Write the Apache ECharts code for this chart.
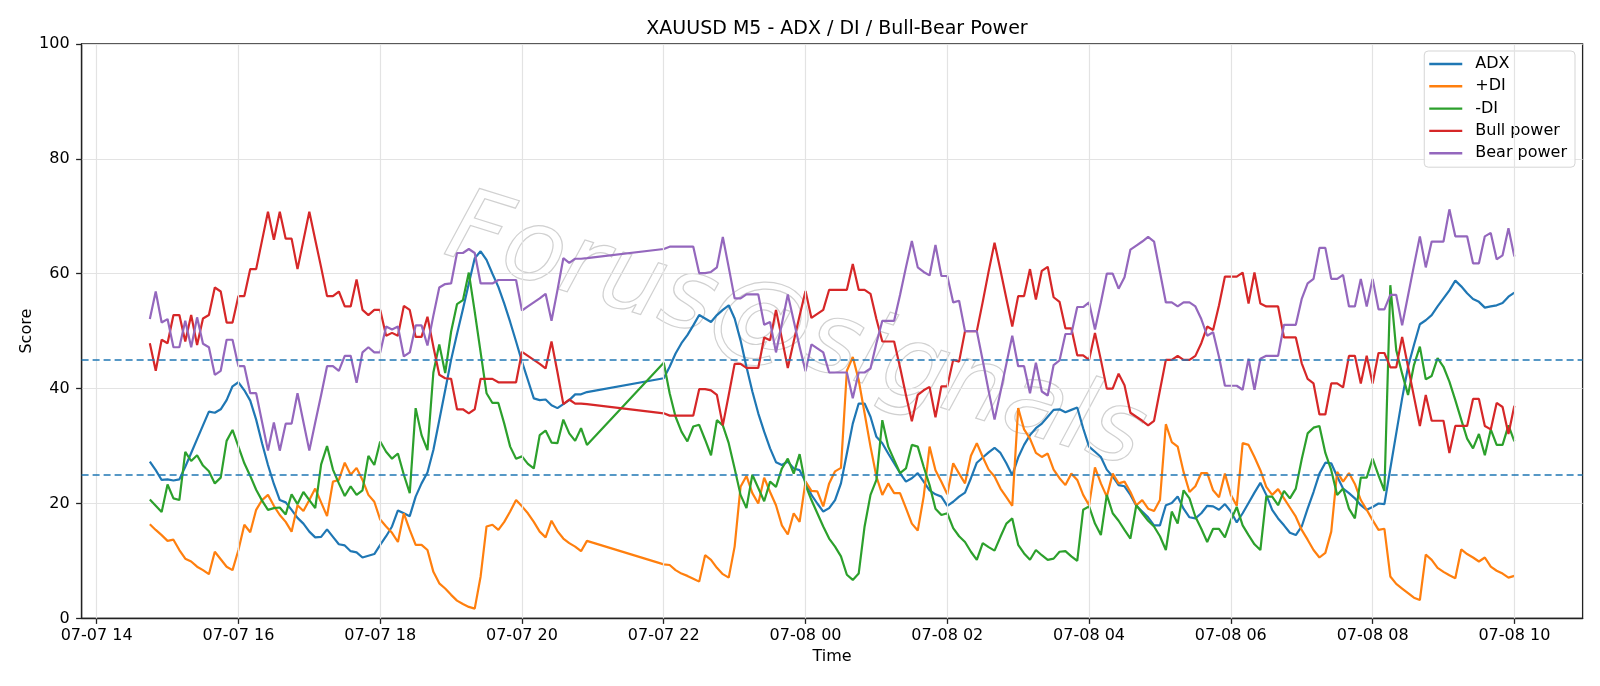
<!DOCTYPE html>
<html>
<head>
<meta charset="utf-8">
<title>XAUUSD M5 - ADX / DI / Bull-Bear Power</title>
<script src="https://cdn.jsdelivr.net/npm/echarts@6/dist/echarts.min.js"></script>
<style>
  html, body { margin: 0; padding: 0; background: #fff; }
  #chart { width: 1600px; height: 686px; }
</style>
</head>
<body>
<div id="chart"></div>
<script>
// two trading sessions of M5 bars: start hour (counted from 07-07 00:00) and bar count
var sessionStart = [14.75, 22];
var sessionBars = [75, 145];
var xTicks = [14, 16, 18, 20, 22, 24, 26, 28, 30, 32, 34];
var levels = [45, 25];
var names = ['ADX', '+DI', '-DI', 'Bull power', 'Bear power'];
var colors = ['#1f77b4', '#ff7f0e', '#2ca02c', '#d62728', '#9467bd'];

var adx = [
  27.3, 25.8, 24.1, 24.2, 24.0, 24.2, 26.4, 28.8, 31.2, 33.6,
  36.0, 35.8, 36.4, 38.0, 40.4, 41.1, 39.7, 37.9, 34.6, 30.5,
  26.7, 23.4, 20.6, 20.2, 18.9, 17.5, 16.5, 15.1, 14.1, 14.2,
  15.5, 14.2, 12.9, 12.7, 11.7, 11.5, 10.6, 10.9, 11.2, 12.8,
  14.3, 16.0, 18.8, 18.3, 17.8, 21.2, 23.5, 25.4, 29.3, 34.5,
  39.7, 45.0, 49.5, 53.8, 58.3, 62.7, 63.9, 62.4, 60.0, 57.7,
  54.8, 51.6, 48.2, 44.7, 41.5, 38.3, 38.0, 38.1, 37.1, 36.6,
  37.3, 38.0, 39.0, 39.0, 39.4,
  // session 2
  41.8, 43.8, 46.1, 47.9, 49.3, 51.0, 52.8, 52.2, 51.6, 52.8,
  53.7, 54.5, 52.2, 48.4, 43.8, 39.5, 35.7, 32.5, 29.6, 27.2,
  26.7, 27.3, 26.1, 25.8, 23.8, 21.5, 20.0, 18.6, 19.2, 20.6,
  23.5, 28.7, 33.9, 37.4, 37.4, 35.1, 31.6, 30.5, 28.7, 27.0,
  25.3, 23.8, 24.4, 25.3, 23.8, 22.3, 21.6, 21.2, 19.6, 20.3,
  21.2, 21.9, 24.4, 27.1, 28.0, 28.9, 29.7, 28.8, 27.0, 24.9,
  28.0, 30.2, 31.9, 33.1, 33.9, 35.1, 36.3, 36.4, 35.9, 36.3,
  36.7, 33.1, 29.9, 29.0, 28.1, 25.9, 24.7, 23.2, 23.0, 21.5,
  19.6, 18.6, 17.6, 16.2, 16.2, 19.7, 20.1, 21.2, 19.1, 17.6,
  17.4, 18.3, 19.6, 19.5, 18.9, 19.9, 18.6, 16.7, 18.3, 20.1,
  21.9, 23.6, 21.5, 18.9, 17.4, 16.2, 14.9, 14.5, 16.0, 19.1,
  22.0, 25.2, 27.1, 27.0, 24.7, 22.6, 21.8, 20.9, 19.7, 18.9,
  19.4, 20.0, 19.9, 26.1, 32.2, 38.3, 43.8, 47.6, 51.2, 51.9,
  52.8, 54.3, 55.7, 57.1, 58.8, 57.8, 56.6, 55.6, 55.1, 54.1,
  54.3, 54.5, 54.9, 56.0, 56.7
];

var plusDi = [
  16.4, 15.4, 14.5, 13.5, 13.7, 11.9, 10.4, 9.9, 9.0, 8.4,
  7.7, 11.6, 10.3, 9.0, 8.4, 11.9, 16.3, 15.0, 18.9, 20.6,
  21.5, 19.6, 18.0, 16.8, 15.1, 19.7, 18.7, 20.6, 22.6, 20.2,
  17.8, 23.8, 24.1, 27.1, 25.0, 26.2, 24.1, 21.5, 20.3, 17.2,
  16.0, 14.9, 13.3, 18.3, 15.4, 12.8, 12.8, 11.9, 8.1, 6.1,
  5.2, 4.1, 3.1, 2.5, 2.0, 1.7, 7.3, 16.0, 16.3, 15.4,
  16.8, 18.6, 20.6, 19.5, 18.3, 16.8, 15.1, 14.1, 17.0, 15.2,
  13.9, 13.1, 12.5, 11.7, 13.5,
  // session 2
  9.4, 9.3, 8.4, 7.8, 7.4, 6.9, 6.4, 11.0, 10.2, 8.8,
  7.7, 7.1, 12.5, 22.9, 24.8, 21.8, 20.0, 24.5, 22.0, 19.7,
  16.2, 14.6, 18.3, 16.8, 23.8, 22.2, 22.1, 19.5, 23.5, 25.6,
  26.2, 43.1, 45.5, 41.5, 35.7, 29.9, 24.7, 21.5, 23.5, 21.8,
  21.8, 19.2, 16.5, 15.3, 21.2, 29.9, 25.8, 23.8, 21.6, 27.0,
  25.2, 23.5, 28.3, 30.5, 28.1, 25.9, 24.7, 22.6, 21.1, 19.6,
  36.6, 32.9, 31.3, 28.8, 28.1, 28.7, 25.9, 24.4, 23.2, 25.2,
  24.1, 21.5, 19.7, 26.3, 23.5, 21.2, 25.2, 23.5, 23.8, 22.0,
  19.7, 20.6, 19.1, 18.7, 20.6, 33.8, 30.7, 29.9, 25.5, 22.0,
  23.0, 25.3, 25.3, 22.3, 21.1, 25.2, 21.5, 19.6, 30.5, 30.2,
  28.1, 25.8, 22.9, 21.5, 22.5, 20.9, 19.3, 17.7, 15.4, 13.7,
  11.9, 10.6, 11.4, 15.1, 25.5, 23.8, 25.3, 23.4, 20.6, 18.9,
  17.1, 15.4, 15.6, 7.3, 6.0, 5.2, 4.4, 3.6, 3.2, 11.1,
  10.2, 8.8, 8.1, 7.5, 7.0, 12.0, 11.2, 10.6, 9.9, 10.6,
  9.0, 8.3, 7.8, 7.1, 7.4
];

var minusDi = [
  20.7, 19.6, 18.5, 23.3, 20.9, 20.6, 29.0, 27.4, 28.4, 26.6,
  25.6, 23.5, 24.5, 30.9, 32.8, 29.9, 27.0, 24.8, 22.4, 20.5,
  18.9, 19.2, 19.3, 18.1, 21.6, 19.9, 22.0, 20.6, 19.2, 26.8,
  30.0, 25.9, 23.5, 21.3, 23.0, 21.5, 22.3, 28.3, 26.7, 30.8,
  29.0, 27.8, 28.7, 25.0, 21.8, 36.6, 31.9, 29.3, 42.8, 47.7,
  42.7, 49.9, 54.7, 55.4, 60.2, 53.4, 46.3, 39.2, 37.5, 37.5,
  33.9, 29.9, 27.8, 28.2, 26.9, 26.1, 31.9, 32.7, 30.6, 30.5,
  34.6, 32.2, 30.9, 33.1, 30.2,
  // session 2
  44.5, 39.2, 35.1, 32.5, 30.8, 33.4, 33.7, 31.1, 28.4, 34.5,
  33.6, 30.5, 26.1, 21.5, 19.2, 25.0, 22.7, 20.4, 23.8, 22.9,
  26.1, 27.8, 25.2, 28.6, 23.2, 20.6, 18.3, 16.0, 13.9, 12.5,
  10.8, 7.6, 6.7, 7.8, 16.0, 21.5, 24.1, 34.5, 29.9, 27.6,
  25.3, 26.1, 30.2, 29.9, 26.4, 23.2, 19.1, 18.0, 18.3, 15.7,
  14.3, 13.3, 11.6, 10.2, 13.1, 12.4, 11.8, 14.2, 16.5, 17.4,
  12.8, 11.3, 10.2, 11.9, 11.0, 10.2, 10.4, 11.6, 11.7, 10.8,
  10.0, 18.9, 19.5, 16.5, 14.5, 21.5, 18.3, 17.0, 15.4, 13.9,
  19.7, 18.3, 17.0, 16.0, 14.3, 11.9, 18.6, 16.5, 22.3, 20.9,
  17.7, 15.6, 13.3, 15.6, 15.6, 14.1, 17.1, 19.4, 16.2, 14.5,
  12.9, 11.9, 21.2, 21.2, 19.7, 22.2, 20.9, 22.6, 27.7, 32.2,
  33.2, 33.5, 28.8, 25.8, 21.5, 22.6, 19.1, 17.4, 24.5, 24.5,
  27.8, 24.9, 22.2, 58.0, 46.7, 42.6, 38.9, 44.1, 47.3, 41.6,
  42.2, 45.3, 43.8, 41.2, 38.0, 34.6, 31.3, 29.6, 32.1, 28.4,
  32.9, 30.2, 30.2, 33.6, 30.8
];

var bullPower = [
  47.9, 43.1, 48.5, 47.9, 52.8, 52.8, 48.2, 52.8, 47.6, 52.2,
  52.8, 57.6, 56.9, 51.5, 51.5, 56.1, 56.1, 60.8, 60.8, 65.8,
  70.8, 65.9, 70.8, 66.1, 66.1, 60.8, 65.8, 70.8, 65.9, 61.1,
  56.1, 56.1, 56.9, 54.3, 54.3, 59.0, 53.7, 52.8, 53.7, 53.7,
  49.2, 49.7, 49.2, 54.4, 53.7, 49.0, 49.0, 52.5, 47.3, 42.4,
  41.8, 41.7, 36.4, 36.4, 35.7, 36.4, 41.7, 41.7, 41.7, 41.1,
  41.1, 41.1, 41.1, 46.4, 45.7, 45.0, 44.3, 43.5, 48.2, 42.9,
  37.3, 38.1, 37.4, 37.4, 37.3,
  // session 2
  35.7, 35.3, 35.3, 35.3, 35.3, 35.3, 39.9, 39.9, 39.7, 38.9,
  33.6, 38.9, 44.3, 44.3, 43.6, 43.6, 43.6, 48.9, 48.4, 53.7,
  48.7, 43.6, 48.2, 52.7, 57.0, 52.3, 53.0, 53.7, 57.2, 57.2,
  57.2, 57.2, 61.7, 57.2, 57.2, 56.5, 52.1, 48.2, 48.2, 48.2,
  43.7, 38.9, 34.3, 38.9, 39.7, 40.3, 35.0, 40.4, 40.4, 45.0,
  44.7, 50.0, 50.0, 50.0, 55.1, 60.4, 65.4, 60.6, 55.7, 50.8,
  56.1, 56.1, 60.8, 55.5, 60.5, 61.2, 55.9, 55.1, 50.5, 50.5,
  45.8, 45.8, 45.0, 49.7, 45.0, 40.0, 40.0, 42.6, 40.6, 35.8,
  35.1, 34.4, 33.6, 34.4, 39.7, 45.0, 45.0, 45.7, 45.0, 45.0,
  45.7, 47.9, 50.8, 50.2, 54.5, 59.5, 59.5, 59.5, 60.2, 54.8,
  60.2, 54.8, 54.3, 54.3, 54.3, 48.9, 48.9, 48.9, 44.4, 41.7,
  40.9, 35.5, 35.5, 40.9, 40.9, 40.2, 45.7, 45.7, 40.9, 45.7,
  40.9, 46.2, 46.2, 43.7, 43.7, 49.0, 43.8, 38.6, 33.5, 38.9,
  34.4, 34.4, 34.4, 28.8, 33.5, 33.5, 33.5, 38.2, 38.2, 33.5,
  32.9, 37.5, 36.8, 32.1, 37.0
];

var bearPower = [
  52.1, 56.9, 51.5, 52.1, 47.2, 47.2, 51.8, 47.2, 52.4, 47.8,
  47.2, 42.4, 43.1, 48.5, 48.5, 43.9, 43.9, 39.2, 39.2, 34.2,
  29.2, 34.1, 29.2, 33.9, 33.9, 39.2, 34.2, 29.2, 34.1, 38.9,
  43.9, 43.9, 43.1, 45.7, 45.7, 41.0, 46.3, 47.2, 46.3, 46.3,
  50.8, 50.3, 50.8, 45.6, 46.3, 51.0, 51.0, 47.5, 52.7, 57.6,
  58.2, 58.3, 63.6, 63.6, 64.3, 63.6, 58.3, 58.3, 58.3, 58.9,
  58.9, 58.9, 58.9, 53.6, 54.3, 55.0, 55.7, 56.5, 51.8, 57.1,
  62.7, 61.9, 62.6, 62.6, 62.7,
  // session 2
  64.3, 64.7, 64.7, 64.7, 64.7, 64.7, 60.1, 60.1, 60.3, 61.1,
  66.4, 61.1, 55.7, 55.7, 56.4, 56.4, 56.4, 51.1, 51.6, 46.3,
  51.3, 56.4, 51.8, 47.3, 43.0, 47.7, 47.0, 46.3, 42.8, 42.8,
  42.8, 42.8, 38.3, 42.8, 42.8, 43.5, 47.9, 51.8, 51.8, 51.8,
  56.3, 61.1, 65.7, 61.1, 60.3, 59.7, 65.0, 59.6, 59.6, 55.0,
  55.3, 50.0, 50.0, 50.0, 44.9, 39.6, 34.6, 39.4, 44.3, 49.2,
  43.9, 43.9, 39.2, 44.5, 39.5, 38.8, 44.1, 44.9, 49.5, 49.5,
  54.2, 54.2, 55.0, 50.3, 55.0, 60.0, 60.0, 57.4, 59.4, 64.2,
  64.9, 65.6, 66.4, 65.6, 60.3, 55.0, 55.0, 54.3, 55.0, 55.0,
  54.3, 52.1, 49.2, 49.8, 45.5, 40.5, 40.5, 40.5, 39.8, 45.2,
  39.8, 45.2, 45.7, 45.7, 45.7, 51.1, 51.1, 51.1, 55.6, 58.3,
  59.1, 64.5, 64.5, 59.1, 59.1, 59.8, 54.3, 54.3, 59.1, 54.3,
  59.1, 53.8, 53.8, 56.3, 56.3, 51.0, 56.2, 61.4, 66.5, 61.1,
  65.6, 65.6, 65.6, 71.2, 66.5, 66.5, 66.5, 61.8, 61.8, 66.5,
  67.1, 62.5, 63.2, 67.9, 63.0
];

// bar times in hours
var hours = [];
sessionStart.forEach(function (s, k) {
  for (var i = 0; i < sessionBars[k]; i++) hours.push(s + i * 5 / 60);
});

function pairs(vals) {
  return vals.map(function (v, i) { return [hours[i], v]; });
}

function tickLabel(h) {
  var day = h >= 24 ? '07-08' : '07-07';
  var hh = Math.round(h) % 24;
  return day + ' ' + (hh < 10 ? '0' : '') + hh;
}

var font = 'DejaVu Sans';
var chart = echarts.init(document.getElementById('chart'));

var allValues = [adx, plusDi, minusDi, bullPower, bearPower];
var series = allValues.map(function (vals, k) {
  return {
    name: names[k],
    type: 'line',
    data: pairs(vals),
    showSymbol: false,
    symbol: 'none',
    lineStyle: { width: 2.2, color: colors[k] },
    itemStyle: { color: colors[k] },
    z: 3
  };
});

// vertical grid lines at the time ticks
series.push({
  type: 'line', data: [], silent: true, z: 1,
  markLine: {
    symbol: 'none', silent: true, animation: false,
    label: { show: false },
    lineStyle: { color: '#e3e3e3', width: 1.2, type: 'solid' },
    data: xTicks.map(function (t) { return { xAxis: t }; })
  }
});
// 45 / 25 reference levels
series.push({
  type: 'line', data: [], silent: true, z: 4,
  markLine: {
    symbol: 'none', silent: true, animation: false,
    label: { show: false },
    lineStyle: { color: '#1f77b4', width: 1.5, type: [7, 4] },
    data: levels.map(function (v) { return { yAxis: v }; })
  }
});

var option = {
  animation: false,
  backgroundColor: '#fff',
  title: {
    text: 'XAUUSD M5 - ADX / DI / Bull-Bear Power',
    left: 832, top: 15, textAlign: 'center',
    textStyle: { fontSize: 19, fontWeight: 'normal', color: '#000', fontFamily: font }
  },
  legend: {
    data: names, orient: 'vertical', right: 25, top: 51,
    icon: 'rect', itemWidth: 33, itemHeight: 2.4, itemGap: 6.3,
    padding: [5, 8, 6, 5],
    backgroundColor: 'rgba(255,255,255,0.85)',
    borderColor: '#d5d5d5', borderWidth: 1, borderRadius: 4,
    textStyle: { fontSize: 16, lineHeight: 16, color: '#000', fontFamily: font, padding: [0, 0, 0, 8] }
  },
  grid: {
    left: 81.6, right: 17.4, top: 43.9, bottom: 67.6,
    show: true, borderColor: '#222', borderWidth: 1.3, containLabel: false
  },
  xAxis: {
    type: 'value', min: 13.7875, max: 34.9625,
    name: 'Time', nameLocation: 'middle', nameGap: 30, nameMoveOverlap: false,
    nameTextStyle: { fontSize: 16, color: '#000', fontFamily: font },
    axisLine: { onZero: false, lineStyle: { color: '#222', width: 1.3 } },
    axisTick: { show: true, length: 5.5, customValues: xTicks, lineStyle: { color: '#222', width: 1.3 } },
    axisLabel: { customValues: xTicks, formatter: tickLabel, margin: 9, fontSize: 16, color: '#000', fontFamily: font },
    splitLine: { show: false }
  },
  yAxis: {
    type: 'value', min: 0, max: 100, interval: 20,
    name: 'Score', nameLocation: 'middle', nameGap: 47, nameRotate: 90, nameMoveOverlap: false,
    nameTextStyle: { fontSize: 16, color: '#000', fontFamily: font },
    axisLine: { show: true, lineStyle: { color: '#222', width: 1.3 } },
    axisTick: { show: true, length: 5.5, lineStyle: { color: '#222', width: 1.3 } },
    axisLabel: { margin: 12, fontSize: 16, color: '#000', fontFamily: font },
    splitLine: { lineStyle: { color: '#e3e3e3', width: 1.2 } }
  },
  graphic: [{
    type: 'text', x: 795, y: 335, rotation: -0.3, z: 0, silent: true,
    style: {
      text: 'Forus@signals',
      font: 'italic 100px "DejaVu Sans"',
      fill: 'rgba(255,255,255,0)',
      stroke: 'rgba(150,150,150,0.45)', lineWidth: 1.2,
      textAlign: 'center', textVerticalAlign: 'middle'
    }
  }],
  series: series
};

chart.setOption(option);
</script>
</body>
</html>
